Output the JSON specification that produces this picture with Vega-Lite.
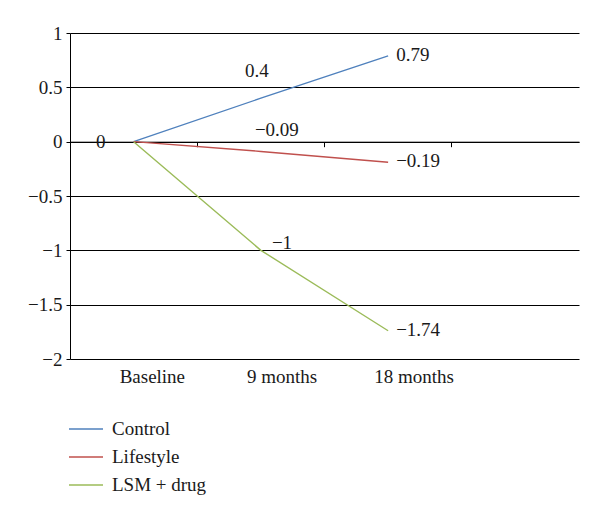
{
  "$schema": "https://vega.github.io/schema/vega-lite/v6.json",
  "autosize": {"type": "none"},
  "padding": {"left": 70, "top": 33, "right": 21, "bottom": 153},
  "width": 509,
  "height": 326,
  "background": "white",
  "config": {
    "view": {"stroke": null},
    "font": "Liberation Serif, Times New Roman, serif",
    "text": {"font": "Liberation Serif, Times New Roman, serif", "fontSize": 19, "color": "#1a1a1a"}
  },
  "data": {
    "values": [
      {"time": "Baseline", "group": "Control", "value": 0},
      {"time": "9 months", "group": "Control", "value": 0.4},
      {"time": "18 months", "group": "Control", "value": 0.79},
      {"time": "Baseline", "group": "Lifestyle", "value": 0},
      {"time": "9 months", "group": "Lifestyle", "value": -0.09},
      {"time": "18 months", "group": "Lifestyle", "value": -0.19},
      {"time": "Baseline", "group": "LSM + drug", "value": 0},
      {"time": "9 months", "group": "LSM + drug", "value": -1},
      {"time": "18 months", "group": "LSM + drug", "value": -1.74}
    ]
  },
  "encoding": {
    "x": {
      "field": "time",
      "type": "nominal",
      "sort": null,
      "bandPosition": 0.5,
      "scale": {"type": "band", "domain": ["Baseline", "9 months", "18 months", " "], "paddingInner": 0, "paddingOuter": 0},
      "axis": {
        "title": null,
        "orient": "bottom",
        "offset": -217.3,
        "bandPosition": 0,
        "grid": false,
        "domain": true,
        "domainColor": "#000000",
        "domainWidth": 1,
        "ticks": true,
        "tickColor": "#000000",
        "tickSize": 5,
        "tickWidth": 1,
        "labelAlign": "left",
        "labelBaseline": "top",
        "labelOffset": -14,
        "labelPadding": 221,
        "labelFont": "Liberation Serif, Times New Roman, serif",
        "labelFontSize": 19,
        "labelColor": "#1a1a1a",
        "labelAngle": 0
      }
    },
    "y": {
      "field": "value",
      "type": "quantitative",
      "scale": {"domain": [-2, 1], "nice": false, "zero": false},
      "axis": {
        "title": null,
        "values": [-2, -1.5, -1, -0.5, 0, 0.5, 1],
        "format": ".1~f",
        "grid": true,
        "gridColor": "#000000",
        "gridWidth": 1,
        "gridOpacity": 1,
        "domain": true,
        "domainColor": "#000000",
        "domainWidth": 1,
        "tickColor": "#000000",
        "tickSize": 4,
        "labelPadding": 4,
        "labelFont": "Liberation Serif, Times New Roman, serif",
        "labelFontSize": 19,
        "labelColor": "#1a1a1a"
      }
    }
  },
  "layer": [
    {
      "mark": {"type": "line", "strokeWidth": 1.4},
      "encoding": {
        "color": {
          "field": "group",
          "type": "nominal",
          "sort": ["Control", "Lifestyle", "LSM + drug"],
          "scale": {"domain": ["Control", "Lifestyle", "LSM + drug"], "range": ["#4F81BD", "#C0504D", "#9BBB59"]},
          "legend": {
            "title": null,
            "orient": "none",
            "legendX": -2,
            "legendY": 378,
            "padding": 0,
            "symbolType": "stroke",
            "symbolSize": 1156,
            "symbolStrokeWidth": 1.6,
            "labelFont": "Liberation Serif, Times New Roman, serif",
            "labelFontSize": 19,
            "labelColor": "#1a1a1a",
            "labelOffset": 8,
            "rowPadding": -3,
            "labelLimit": 300
          }
        }
      }
    },
    {
      "transform": [{"filter": "datum.time === 'Baseline' && datum.group === 'Control'"}],
      "mark": {"type": "text", "align": "center", "baseline": "middle", "dx": -33},
      "encoding": {"text": {"field": "value", "type": "quantitative", "format": ".2~f"}}
    },
    {
      "transform": [{"filter": "datum.time === '9 months' && datum.group === 'Control'"}],
      "mark": {"type": "text", "align": "center", "baseline": "middle", "dx": -4, "dy": -27},
      "encoding": {"text": {"field": "value", "type": "quantitative", "format": ".2~f"}}
    },
    {
      "transform": [{"filter": "datum.time === '9 months' && datum.group === 'Lifestyle'"}],
      "mark": {"type": "text", "align": "center", "baseline": "middle", "dx": 16, "dy": -21},
      "encoding": {"text": {"field": "value", "type": "quantitative", "format": ".2~f"}}
    },
    {
      "transform": [{"filter": "datum.time === '9 months' && datum.group === 'LSM + drug'"}],
      "mark": {"type": "text", "align": "left", "baseline": "middle", "dx": 11, "dy": -7},
      "encoding": {"text": {"field": "value", "type": "quantitative", "format": ".2~f"}}
    },
    {
      "transform": [{"filter": "datum.time === '18 months'"}],
      "mark": {"type": "text", "align": "left", "baseline": "middle", "dx": 8, "dy": -1},
      "encoding": {"text": {"field": "value", "type": "quantitative", "format": ".2~f"}}
    }
  ]
}
